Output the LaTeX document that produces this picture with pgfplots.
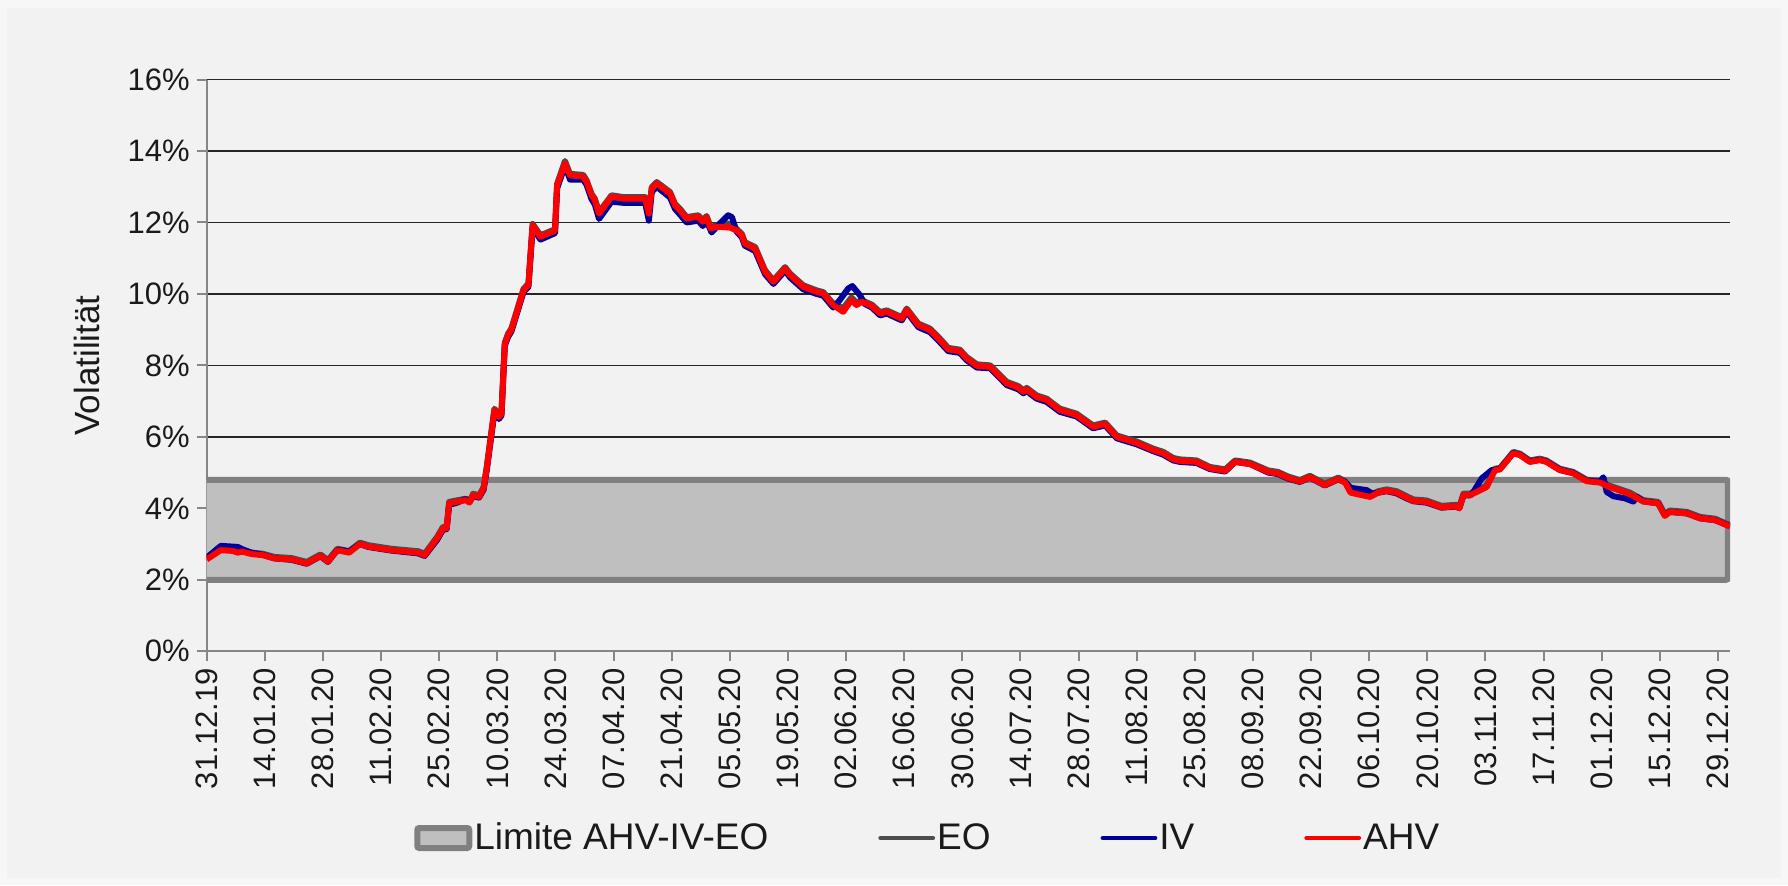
\documentclass[border=0pt]{standalone}
\usepackage{fontspec}
\setmainfont{Liberation Sans}
\usepackage{pgfplots}
\pgfplotsset{compat=1.18}
\definecolor{bg}{HTML}{F2F2F2}
\definecolor{bgout}{HTML}{F7F7F7}
\definecolor{axgray}{HTML}{868686}
\definecolor{bandfill}{HTML}{BFBFBF}
\definecolor{bandline}{HTML}{808080}
\definecolor{eo}{HTML}{4D4D4D}
\definecolor{iv}{HTML}{000099}
\definecolor{ahv}{HTML}{FF0000}
\definecolor{txt}{HTML}{1A1A1A}
\definecolor{gridc}{HTML}{262626}
\pgfplotsset{
  bandlegend/.style={legend image code/.code={\draw[##1, line width=3pt, rounded corners=1pt] (1.5pt,-5pt) rectangle (27.5pt,5pt);}},
  linelegend/.style={legend image code/.code={\draw[##1, line width=2.4pt, line cap=round] (1pt,0pt) -- (27pt,0pt);}},
}

\begin{document}
\begin{tikzpicture}[x=1pt,y=1pt]
\fill[bgout] (0,0) rectangle (894,442.5);
\fill[bg] (3.5,3.5) rectangle (890.5,438.5);
\useasboundingbox (0,0) rectangle (894,442.5);
\begin{axis}[
  at={(103.35pt,116.85pt)}, anchor=south west,
  scale only axis, width=761.65pt, height=285.9pt,
  xmin=0, xmax=366.9, ymin=0, ymax=16,
  axis x line*=bottom, axis y line*=left,
  axis line style={draw=axgray, line width=1pt},
  xtick={0,14,...,364},
  xticklabels={31.12.19,14.01.20,28.01.20,11.02.20,25.02.20,10.03.20,24.03.20,07.04.20,21.04.20,05.05.20,19.05.20,02.06.20,16.06.20,30.06.20,14.07.20,28.07.20,11.08.20,25.08.20,08.09.20,22.09.20,06.10.20,20.10.20,03.11.20,17.11.20,01.12.20,15.12.20,29.12.20},
  ytick={0,2,...,16},
  yticklabels={0\%,2\%,4\%,6\%,8\%,10\%,12\%,14\%,16\%},
  tick align=outside, major tick length=5pt,
  tick style={draw=axgray, line width=1pt},
  ymajorgrids, grid style={draw=gridc, line width=0.8pt},
  x tick label style={rotate=90, anchor=east, font=\fontsize{15.5}{16}\selectfont, text=txt},
  y tick label style={font=\fontsize{15.5}{16}\selectfont, text=txt},
  ylabel={Volatilität},
  ylabel style={at={(axis description cs:-0.0786,0.5)}, anchor=center, font=\fontsize{17.5}{18}\selectfont, text=txt},
  legend columns=4,
  legend cell align=left,
  legend style={at={(axis description cs:0.136,-0.3265)}, anchor=west, draw=none, fill=none,
    inner sep=0pt, font=\fontsize{18.5}{19}\selectfont, text=txt,
    nodes={inner xsep=1pt, inner ysep=0pt},
    /tikz/every odd column/.append style={column sep=0pt},
    /tikz/every even column/.append style={column sep=54pt}},
]
\addplot[fill=bandfill, draw=bandline, line width=3pt, rounded corners=1pt, bandlegend]
  coordinates {(-3,2) (-3,4.8) (366.4,4.8) (366.4,2)} -- cycle;
\addlegendentry{Limite AHV-IV-EO}

\addplot[eo, line width=3pt, line join=round, linelegend]
  coordinates {(0,2.61) (3.4,2.87) (6.2,2.85) (7.5,2.8) (8.5,2.83) (10.8,2.76) (13.5,2.73) (16.3,2.64) (20.4,2.61) (24.1,2.5) (27.4,2.71) (29.2,2.55) (31.5,2.87) (34.3,2.8) (36.9,3.04) (38.9,2.97) (44.4,2.87) (50.9,2.8) (52.5,2.73) (55.5,3.2) (56.9,3.48) (57.8,3.48) (58.4,4.18) (60.1,4.22) (62.4,4.27) (63.3,4.2) (64.2,4.41) (65.6,4.36) (66.7,4.6) (67.5,5.2) (69.3,6.79) (70.4,6.6) (71.0,6.69) (71.8,8.64) (72.6,8.89) (73.4,9.04) (76.3,10.14) (77.5,10.29) (78.5,11.96) (80.4,11.64) (83.9,11.81) (84.4,13.08) (86.3,13.72) (87.5,13.36) (90.7,13.33) (91.5,13.18) (92.7,12.8) (93.5,12.66) (94.5,12.29) (97.5,12.76) (100.3,12.71) (105.6,12.71) (106.5,12.29) (107.2,12.99) (108.4,13.13) (111.6,12.85) (112.8,12.52) (114.0,12.38) (115.6,12.15) (118.4,12.2) (119.5,12.06) (120.4,12.18) (121.4,11.87) (122.8,11.92) (124.5,12.0) (126.0,11.95) (127.6,11.82) (128.9,11.68) (129.6,11.45) (132.1,11.31) (134.5,10.66) (136.5,10.38) (139.3,10.75) (140.5,10.57) (143.7,10.24) (146.9,10.1) (148.5,10.05) (150.9,9.73) (153.3,9.6) (155.3,9.9) (156.5,9.75) (157.8,9.82) (160.2,9.7) (162.2,9.49) (163.8,9.54) (167.4,9.35) (168.6,9.59) (171.4,9.17) (174.2,9.03) (176.6,8.75) (178.6,8.49) (181.4,8.44) (183.0,8.24) (185.5,8.03) (188.7,8.0) (192.7,7.54) (195.5,7.42) (196.7,7.3) (197.5,7.37) (199.9,7.16) (202.3,7.07) (205.5,6.79) (209.5,6.65) (213.5,6.32) (216.4,6.4) (219.2,6.04) (224.0,5.87) (228.0,5.67) (230.4,5.58) (232.8,5.41) (234.4,5.37) (238.4,5.34) (241.6,5.16) (245.3,5.09) (247.7,5.34) (251.3,5.28) (255.7,5.06) (258.0,5.02) (260.5,4.89) (263.3,4.79) (265.7,4.91) (269.3,4.69) (272.5,4.86) (274.2,4.76) (275.5,4.48) (277.4,4.43) (280.2,4.36) (282.2,4.48) (284.2,4.53) (286.6,4.48) (289.0,4.34) (290.6,4.25) (293.8,4.22) (297.4,4.07) (301.0,4.1) (301.7,4.04) (302.7,4.41) (304.3,4.41) (305.9,4.5) (308.3,4.64) (310.3,5.11) (311.5,5.13) (314.7,5.58) (316.3,5.53) (318.7,5.34) (321.1,5.39) (322.7,5.34) (325.9,5.11) (329.1,5.02) (332.4,4.8) (335.6,4.76) (338.0,4.63) (342.8,4.44) (346.0,4.23) (349.6,4.18) (351.2,3.83) (352.4,3.94) (356.5,3.9) (359.7,3.76) (363.3,3.71) (366.9,3.53)};
\addlegendentry{EO}

\addplot[iv, line width=3pt, line join=round, linelegend]
  coordinates {(0,2.62) (3.4,2.95) (7.5,2.92) (8.5,2.86) (10.8,2.76) (13.5,2.7) (16.3,2.6) (20.4,2.56) (24.1,2.45) (27.4,2.66) (29.2,2.5) (31.5,2.84) (34.3,2.8) (36.9,3.0) (38.9,2.92) (44.4,2.82) (50.9,2.74) (52.5,2.67) (55.5,3.12) (56.9,3.4) (57.8,3.42) (58.4,4.1) (60.1,4.15) (62.4,4.26) (63.3,4.18) (64.2,4.34) (65.6,4.3) (66.7,4.52) (67.5,5.1) (69.3,6.68) (70.4,6.5) (71.0,6.6) (71.8,8.55) (72.6,8.8) (73.4,8.95) (76.3,10.05) (77.5,10.2) (78.5,11.85) (80.4,11.52) (83.9,11.7) (84.4,12.95) (86.3,13.6) (87.5,13.2) (90.7,13.2) (91.5,13.05) (92.7,12.65) (93.5,12.5) (94.5,12.1) (97.5,12.58) (100.3,12.55) (105.6,12.55) (106.5,12.05) (107.2,12.85) (108.4,13.0) (111.6,12.7) (112.8,12.38) (114.0,12.22) (115.6,12.0) (118.4,12.05) (119.5,11.9) (120.4,12.05) (121.6,11.72) (123.6,11.97) (125.6,12.2) (126.5,12.15) (127.6,11.75) (128.9,11.58) (129.6,11.35) (132.1,11.2) (134.5,10.55) (136.5,10.28) (139.3,10.65) (140.5,10.46) (143.7,10.13) (146.9,10.0) (148.5,9.95) (150.9,9.62) (152.5,9.83) (154.5,10.15) (155.5,10.22) (157.3,9.97) (158.5,9.72) (160.2,9.62) (162.2,9.4) (163.8,9.45) (167.4,9.26) (168.6,9.5) (171.4,9.07) (174.2,8.93) (176.6,8.65) (178.6,8.4) (181.4,8.35) (183.0,8.15) (185.5,7.94) (188.7,7.92) (192.7,7.45) (195.5,7.33) (196.7,7.22) (197.5,7.28) (199.9,7.07) (202.3,6.98) (205.5,6.7) (209.5,6.57) (213.5,6.24) (216.4,6.32) (219.2,5.96) (224.0,5.79) (228.0,5.6) (230.4,5.5) (232.8,5.34) (234.4,5.3) (238.4,5.27) (241.6,5.1) (245.3,5.03) (247.7,5.3) (251.3,5.24) (255.7,5.0) (258.0,4.96) (260.5,4.83) (263.3,4.74) (265.7,4.86) (269.3,4.64) (272.5,4.81) (274.2,4.74) (275.5,4.58) (276.3,4.56) (279.4,4.51) (280.6,4.42) (282.2,4.44) (284.2,4.48) (286.6,4.42) (289.0,4.28) (290.6,4.2) (293.8,4.16) (297.4,4.02) (301.0,4.05) (301.7,4.0) (302.7,4.36) (304.3,4.36) (305.1,4.46) (307.1,4.84) (309.5,5.07) (311.5,5.1) (314.7,5.55) (316.3,5.5) (318.7,5.31) (321.1,5.36) (322.7,5.31) (325.9,5.08) (329.1,4.99) (332.4,4.77) (335.6,4.75) (336.4,4.87) (337.2,4.46) (338.8,4.34) (341.6,4.28) (343.6,4.19) (344.5,4.32) (346.0,4.2) (349.6,4.14) (351.2,3.8) (352.4,3.9) (356.5,3.86) (359.7,3.72) (363.3,3.67) (366.9,3.5)};
\addlegendentry{IV}

\addplot[ahv, line width=3pt, line join=round, linelegend]
  coordinates {(0,2.57) (3.4,2.83) (6.2,2.81) (7.5,2.76) (8.5,2.79) (10.8,2.72) (13.5,2.69) (16.3,2.6) (20.4,2.57) (24.1,2.46) (27.4,2.67) (29.2,2.51) (31.5,2.83) (34.3,2.76) (36.9,3.0) (38.9,2.93) (44.4,2.83) (50.9,2.76) (52.5,2.69) (55.5,3.16) (56.9,3.44) (57.8,3.44) (58.4,4.14) (60.1,4.18) (62.4,4.23) (63.3,4.16) (64.2,4.37) (65.6,4.32) (66.7,4.56) (67.5,5.16) (69.3,6.75) (70.4,6.56) (71.0,6.65) (71.8,8.6) (72.6,8.85) (73.4,9.0) (76.3,10.1) (77.5,10.25) (78.5,11.92) (80.4,11.6) (83.9,11.77) (84.4,13.04) (86.3,13.65) (87.5,13.32) (90.7,13.28) (91.5,13.14) (92.7,12.76) (93.5,12.62) (94.5,12.25) (97.5,12.72) (100.3,12.67) (105.6,12.67) (106.5,12.25) (107.2,12.95) (108.4,13.09) (111.6,12.81) (112.8,12.48) (114.0,12.34) (115.6,12.11) (118.4,12.16) (119.5,12.02) (120.4,12.14) (121.4,11.83) (122.8,11.88) (126.0,11.86) (127.6,11.78) (128.9,11.64) (129.6,11.41) (132.1,11.27) (134.5,10.62) (136.5,10.34) (139.3,10.71) (140.5,10.53) (143.7,10.2) (146.9,10.06) (148.5,10.01) (150.9,9.69) (153.3,9.5) (155.3,9.83) (156.5,9.69) (157.8,9.78) (160.2,9.66) (162.2,9.45) (163.8,9.5) (167.4,9.31) (168.6,9.55) (171.4,9.13) (174.2,8.99) (176.6,8.71) (178.6,8.45) (181.4,8.4) (183.0,8.2) (185.5,7.99) (188.7,7.96) (192.7,7.5) (195.5,7.38) (196.7,7.26) (197.5,7.33) (199.9,7.12) (202.3,7.03) (205.5,6.75) (209.5,6.61) (213.5,6.28) (216.4,6.36) (219.2,6.0) (224.0,5.83) (228.0,5.63) (230.4,5.54) (232.8,5.37) (234.4,5.33) (238.4,5.3) (241.6,5.12) (245.3,5.05) (247.7,5.3) (251.3,5.24) (255.7,5.02) (258.0,4.98) (260.5,4.85) (263.3,4.75) (265.7,4.87) (269.3,4.65) (272.5,4.82) (274.2,4.72) (275.5,4.44) (277.4,4.39) (280.2,4.32) (282.2,4.44) (284.2,4.49) (286.6,4.44) (289.0,4.3) (290.6,4.21) (293.8,4.18) (297.4,4.03) (301.0,4.06) (301.7,4.0) (302.7,4.37) (304.3,4.37) (305.9,4.46) (308.3,4.6) (310.3,5.07) (311.5,5.09) (314.7,5.54) (316.3,5.49) (318.7,5.3) (321.1,5.35) (322.7,5.3) (325.9,5.07) (329.1,4.98) (332.4,4.76) (335.6,4.72) (338.0,4.59) (342.8,4.4) (346.0,4.19) (349.6,4.14) (351.2,3.79) (352.4,3.9) (356.5,3.86) (359.7,3.72) (363.3,3.67) (366.9,3.49)};
\addlegendentry{AHV}
\end{axis}
\end{tikzpicture}
\end{document}
